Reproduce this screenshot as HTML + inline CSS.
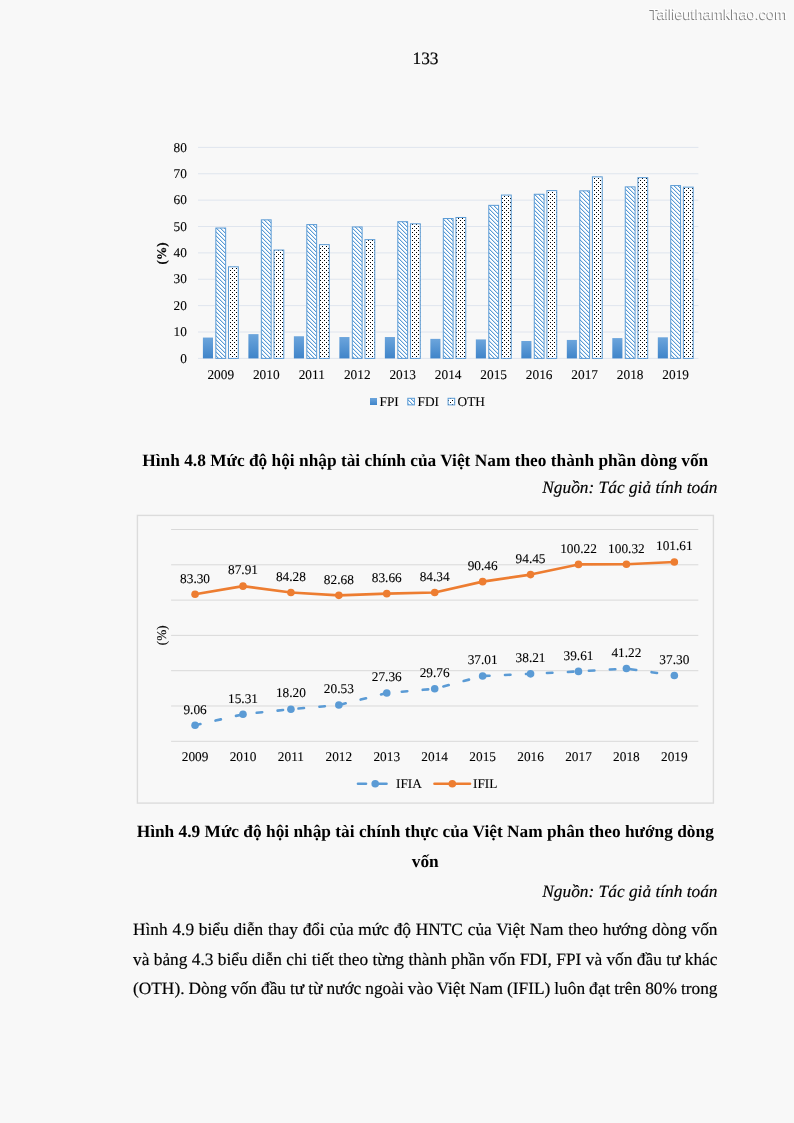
<!DOCTYPE html>
<html lang="vi"><head><meta charset="utf-8"><title>133</title>
<style>
html,body{margin:0;padding:0;}
svg text{stroke:#000;stroke-width:0.1px;}
.r{-webkit-text-stroke:0.18px #000;}
body{width:794px;height:1123px;background:#f8f8f8;position:relative;overflow:hidden;font-family:'Liberation Serif', serif;font-size:17.33px;color:#000;}
</style></head><body>
<div id="pg" style="position:absolute;left:0;top:0;width:794px;height:1123px;transform:translateZ(0);text-rendering:geometricPrecision;">
<svg width="794" height="1123" viewBox="0 0 794 1123" style="position:absolute;left:0;top:0"><defs>
<linearGradient id="gFPI" x1="0" y1="0" x2="0" y2="1"><stop offset="0" stop-color="#6ca5dc"/><stop offset="1" stop-color="#3f84c9"/></linearGradient>
<pattern id="pFDI" patternUnits="userSpaceOnUse" width="4" height="4">
<rect width="4" height="4" fill="#ffffff"/>
<rect x="0" y="0" width="1" height="1" fill="#5b9bd5"/><rect x="1" y="1" width="1" height="1" fill="#5b9bd5"/><rect x="2" y="2" width="1" height="1" fill="#5b9bd5"/><rect x="3" y="3" width="1" height="1" fill="#5b9bd5"/><g fill="#5b9bd5" fill-opacity="0.3"><rect x="1" y="0" width="1" height="1"/><rect x="2" y="1" width="1" height="1"/><rect x="3" y="2" width="1" height="1"/><rect x="0" y="3" width="1" height="1"/></g>
</pattern>
<pattern id="pOTH" patternUnits="userSpaceOnUse" width="4" height="4">
<rect width="4" height="4" fill="#ffffff"/>
<rect x="0" y="0" width="1" height="1" fill="#000"/>
<rect x="2" y="2" width="1" height="1" fill="#000"/>
</pattern>
<pattern id="pLegFDI" patternUnits="userSpaceOnUse" width="4" height="4">
<rect width="4" height="4" fill="#ffffff"/>
<rect x="0" y="0" width="1" height="1" fill="#5b9bd5"/><rect x="1" y="1" width="1" height="1" fill="#5b9bd5"/><rect x="2" y="2" width="1" height="1" fill="#5b9bd5"/><rect x="3" y="3" width="1" height="1" fill="#5b9bd5"/><g fill="#5b9bd5" fill-opacity="0.3"><rect x="1" y="0" width="1" height="1"/><rect x="2" y="1" width="1" height="1"/><rect x="3" y="2" width="1" height="1"/><rect x="0" y="3" width="1" height="1"/></g>
</pattern>
</defs><line x1="198.0" y1="358.40" x2="698.4" y2="358.40" stroke="#dfe5ee" stroke-width="1"/><text x="186.8" y="362.60" text-anchor="end" font-family="Liberation Serif" font-size="13.33" fill="#000">0</text><line x1="198.0" y1="332.02" x2="698.4" y2="332.02" stroke="#dfe5ee" stroke-width="1"/><text x="186.8" y="336.22" text-anchor="end" font-family="Liberation Serif" font-size="13.33" fill="#000">10</text><line x1="198.0" y1="305.65" x2="698.4" y2="305.65" stroke="#dfe5ee" stroke-width="1"/><text x="186.8" y="309.85" text-anchor="end" font-family="Liberation Serif" font-size="13.33" fill="#000">20</text><line x1="198.0" y1="279.27" x2="698.4" y2="279.27" stroke="#dfe5ee" stroke-width="1"/><text x="186.8" y="283.47" text-anchor="end" font-family="Liberation Serif" font-size="13.33" fill="#000">30</text><line x1="198.0" y1="252.90" x2="698.4" y2="252.90" stroke="#dfe5ee" stroke-width="1"/><text x="186.8" y="257.10" text-anchor="end" font-family="Liberation Serif" font-size="13.33" fill="#000">40</text><line x1="198.0" y1="226.52" x2="698.4" y2="226.52" stroke="#dfe5ee" stroke-width="1"/><text x="186.8" y="230.72" text-anchor="end" font-family="Liberation Serif" font-size="13.33" fill="#000">50</text><line x1="198.0" y1="200.15" x2="698.4" y2="200.15" stroke="#dfe5ee" stroke-width="1"/><text x="186.8" y="204.35" text-anchor="end" font-family="Liberation Serif" font-size="13.33" fill="#000">60</text><line x1="198.0" y1="173.77" x2="698.4" y2="173.77" stroke="#dfe5ee" stroke-width="1"/><text x="186.8" y="177.97" text-anchor="end" font-family="Liberation Serif" font-size="13.33" fill="#000">70</text><line x1="198.0" y1="147.40" x2="698.4" y2="147.40" stroke="#dfe5ee" stroke-width="1"/><text x="186.8" y="151.60" text-anchor="end" font-family="Liberation Serif" font-size="13.33" fill="#000">80</text><rect x="202.90" y="337.56" width="10.1" height="20.84" fill="url(#gFPI)"/><rect x="215.85" y="228.03" width="9.8" height="130.37" fill="url(#pFDI)" stroke="#5b9bd5" stroke-width="1"/><rect x="228.50" y="266.80" width="9.8" height="91.60" fill="url(#pOTH)" stroke="#5b9bd5" stroke-width="1"/><text x="220.75" y="379.2" text-anchor="middle" font-family="Liberation Serif" font-size="13.33" fill="#000">2009</text><rect x="248.39" y="334.13" width="10.1" height="24.26" fill="url(#gFPI)"/><rect x="261.34" y="219.85" width="9.8" height="138.55" fill="url(#pFDI)" stroke="#5b9bd5" stroke-width="1"/><rect x="273.99" y="250.05" width="9.8" height="108.35" fill="url(#pOTH)" stroke="#5b9bd5" stroke-width="1"/><text x="266.24" y="379.2" text-anchor="middle" font-family="Liberation Serif" font-size="13.33" fill="#000">2010</text><rect x="293.88" y="336.25" width="10.1" height="22.15" fill="url(#gFPI)"/><rect x="306.83" y="224.60" width="9.8" height="133.80" fill="url(#pFDI)" stroke="#5b9bd5" stroke-width="1"/><rect x="319.48" y="244.65" width="9.8" height="113.75" fill="url(#pOTH)" stroke="#5b9bd5" stroke-width="1"/><text x="311.73" y="379.2" text-anchor="middle" font-family="Liberation Serif" font-size="13.33" fill="#000">2011</text><rect x="339.37" y="337.04" width="10.1" height="21.36" fill="url(#gFPI)"/><rect x="352.32" y="226.97" width="9.8" height="131.43" fill="url(#pFDI)" stroke="#5b9bd5" stroke-width="1"/><rect x="364.97" y="239.63" width="9.8" height="118.77" fill="url(#pOTH)" stroke="#5b9bd5" stroke-width="1"/><text x="357.22" y="379.2" text-anchor="middle" font-family="Liberation Serif" font-size="13.33" fill="#000">2012</text><rect x="384.86" y="337.04" width="10.1" height="21.36" fill="url(#gFPI)"/><rect x="397.81" y="221.70" width="9.8" height="136.70" fill="url(#pFDI)" stroke="#5b9bd5" stroke-width="1"/><rect x="410.46" y="223.81" width="9.8" height="134.59" fill="url(#pOTH)" stroke="#5b9bd5" stroke-width="1"/><text x="402.71" y="379.2" text-anchor="middle" font-family="Liberation Serif" font-size="13.33" fill="#000">2013</text><rect x="430.35" y="338.88" width="10.1" height="19.52" fill="url(#gFPI)"/><rect x="443.30" y="218.53" width="9.8" height="139.87" fill="url(#pFDI)" stroke="#5b9bd5" stroke-width="1"/><rect x="455.95" y="217.48" width="9.8" height="140.92" fill="url(#pOTH)" stroke="#5b9bd5" stroke-width="1"/><text x="448.20" y="379.2" text-anchor="middle" font-family="Liberation Serif" font-size="13.33" fill="#000">2014</text><rect x="475.84" y="339.41" width="10.1" height="18.99" fill="url(#gFPI)"/><rect x="488.79" y="205.35" width="9.8" height="153.05" fill="url(#pFDI)" stroke="#5b9bd5" stroke-width="1"/><rect x="501.44" y="195.06" width="9.8" height="163.34" fill="url(#pOTH)" stroke="#5b9bd5" stroke-width="1"/><text x="493.69" y="379.2" text-anchor="middle" font-family="Liberation Serif" font-size="13.33" fill="#000">2015</text><rect x="521.33" y="340.99" width="10.1" height="17.41" fill="url(#gFPI)"/><rect x="534.28" y="194.27" width="9.8" height="164.13" fill="url(#pFDI)" stroke="#5b9bd5" stroke-width="1"/><rect x="546.93" y="190.58" width="9.8" height="167.82" fill="url(#pOTH)" stroke="#5b9bd5" stroke-width="1"/><text x="539.18" y="379.2" text-anchor="middle" font-family="Liberation Serif" font-size="13.33" fill="#000">2016</text><rect x="566.82" y="339.94" width="10.1" height="18.46" fill="url(#gFPI)"/><rect x="579.77" y="190.84" width="9.8" height="167.56" fill="url(#pFDI)" stroke="#5b9bd5" stroke-width="1"/><rect x="592.42" y="176.86" width="9.8" height="181.54" fill="url(#pOTH)" stroke="#5b9bd5" stroke-width="1"/><text x="584.67" y="379.2" text-anchor="middle" font-family="Liberation Serif" font-size="13.33" fill="#000">2017</text><rect x="612.31" y="338.09" width="10.1" height="20.31" fill="url(#gFPI)"/><rect x="625.26" y="186.88" width="9.8" height="171.52" fill="url(#pFDI)" stroke="#5b9bd5" stroke-width="1"/><rect x="637.91" y="177.65" width="9.8" height="180.75" fill="url(#pOTH)" stroke="#5b9bd5" stroke-width="1"/><text x="630.16" y="379.2" text-anchor="middle" font-family="Liberation Serif" font-size="13.33" fill="#000">2018</text><rect x="657.80" y="337.30" width="10.1" height="21.10" fill="url(#gFPI)"/><rect x="670.75" y="185.57" width="9.8" height="172.83" fill="url(#pFDI)" stroke="#5b9bd5" stroke-width="1"/><rect x="683.40" y="187.15" width="9.8" height="171.25" fill="url(#pOTH)" stroke="#5b9bd5" stroke-width="1"/><text x="675.65" y="379.2" text-anchor="middle" font-family="Liberation Serif" font-size="13.33" fill="#000">2019</text><text transform="translate(166.2,253.3) rotate(-90)" text-anchor="middle" font-family="Liberation Serif" font-weight="bold" font-size="13.33" fill="#000" style="stroke-width:0.1px">(%)</text><rect x="370" y="398" width="7" height="7" fill="url(#gFPI)"/><text x="379.5" y="405.6" font-family="Liberation Serif" font-size="13.33" fill="#000">FPI</text><rect x="407.8" y="398.3" width="6.6" height="6.6" fill="url(#pLegFDI)" stroke="#5b9bd5" stroke-width="1"/><text x="417.5" y="405.6" font-family="Liberation Serif" font-size="13.33" fill="#000">FDI</text><rect x="448.1" y="398.3" width="6.6" height="6.6" fill="url(#pOTH)" stroke="#5b9bd5" stroke-width="1"/><text x="457.6" y="405.6" font-family="Liberation Serif" font-size="13.33" fill="#000">OTH</text><rect x="137.4" y="515.4" width="576" height="287.7" fill="none" stroke="#dcdcdc" stroke-width="1.4"/><line x1="171.1" y1="741.30" x2="698.3" y2="741.30" stroke="#d9d9d9" stroke-width="1"/><line x1="171.1" y1="706.00" x2="698.3" y2="706.00" stroke="#d9d9d9" stroke-width="1"/><line x1="171.1" y1="670.70" x2="698.3" y2="670.70" stroke="#d9d9d9" stroke-width="1"/><line x1="171.1" y1="635.40" x2="698.3" y2="635.40" stroke="#d9d9d9" stroke-width="1"/><line x1="171.1" y1="600.10" x2="698.3" y2="600.10" stroke="#d9d9d9" stroke-width="1"/><line x1="171.1" y1="564.80" x2="698.3" y2="564.80" stroke="#d9d9d9" stroke-width="1"/><line x1="171.1" y1="529.50" x2="698.3" y2="529.50" stroke="#d9d9d9" stroke-width="1"/><polyline points="195.06,725.31 242.99,714.28 290.92,709.18 338.85,705.06 386.77,693.01 434.70,688.77 482.63,675.98 530.55,673.86 578.48,671.39 626.41,668.55 674.34,675.47" fill="none" stroke="#5b9bd5" stroke-width="2.6" stroke-dasharray="5.5 15.5" stroke-linecap="round"/><circle cx="195.06" cy="725.31" r="3.8" fill="#5b9bd5"/><circle cx="242.99" cy="714.28" r="3.8" fill="#5b9bd5"/><circle cx="290.92" cy="709.18" r="3.8" fill="#5b9bd5"/><circle cx="338.85" cy="705.06" r="3.8" fill="#5b9bd5"/><circle cx="386.77" cy="693.01" r="3.8" fill="#5b9bd5"/><circle cx="434.70" cy="688.77" r="3.8" fill="#5b9bd5"/><circle cx="482.63" cy="675.98" r="3.8" fill="#5b9bd5"/><circle cx="530.55" cy="673.86" r="3.8" fill="#5b9bd5"/><circle cx="578.48" cy="671.39" r="3.8" fill="#5b9bd5"/><circle cx="626.41" cy="668.55" r="3.8" fill="#5b9bd5"/><circle cx="674.34" cy="675.47" r="3.8" fill="#5b9bd5"/><polyline points="195.06,594.28 242.99,586.14 290.92,592.55 338.85,595.37 386.77,593.64 434.70,592.44 482.63,581.64 530.55,574.60 578.48,564.41 626.41,564.24 674.34,561.96" fill="none" stroke="#ed7d31" stroke-width="2.6" stroke-linejoin="round"/><circle cx="195.06" cy="594.28" r="3.8" fill="#ed7d31"/><circle cx="242.99" cy="586.14" r="3.8" fill="#ed7d31"/><circle cx="290.92" cy="592.55" r="3.8" fill="#ed7d31"/><circle cx="338.85" cy="595.37" r="3.8" fill="#ed7d31"/><circle cx="386.77" cy="593.64" r="3.8" fill="#ed7d31"/><circle cx="434.70" cy="592.44" r="3.8" fill="#ed7d31"/><circle cx="482.63" cy="581.64" r="3.8" fill="#ed7d31"/><circle cx="530.55" cy="574.60" r="3.8" fill="#ed7d31"/><circle cx="578.48" cy="564.41" r="3.8" fill="#ed7d31"/><circle cx="626.41" cy="564.24" r="3.8" fill="#ed7d31"/><circle cx="674.34" cy="561.96" r="3.8" fill="#ed7d31"/><text x="195.06" y="582.58" text-anchor="middle" font-family="Liberation Serif" font-size="13.33" fill="#000">83.30</text><text x="242.99" y="574.44" text-anchor="middle" font-family="Liberation Serif" font-size="13.33" fill="#000">87.91</text><text x="290.92" y="580.85" text-anchor="middle" font-family="Liberation Serif" font-size="13.33" fill="#000">84.28</text><text x="338.85" y="583.67" text-anchor="middle" font-family="Liberation Serif" font-size="13.33" fill="#000">82.68</text><text x="386.77" y="581.94" text-anchor="middle" font-family="Liberation Serif" font-size="13.33" fill="#000">83.66</text><text x="434.70" y="580.74" text-anchor="middle" font-family="Liberation Serif" font-size="13.33" fill="#000">84.34</text><text x="482.63" y="569.94" text-anchor="middle" font-family="Liberation Serif" font-size="13.33" fill="#000">90.46</text><text x="530.55" y="562.90" text-anchor="middle" font-family="Liberation Serif" font-size="13.33" fill="#000">94.45</text><text x="578.48" y="552.71" text-anchor="middle" font-family="Liberation Serif" font-size="13.33" fill="#000">100.22</text><text x="626.41" y="552.54" text-anchor="middle" font-family="Liberation Serif" font-size="13.33" fill="#000">100.32</text><text x="674.34" y="550.26" text-anchor="middle" font-family="Liberation Serif" font-size="13.33" fill="#000">101.61</text><text x="195.06" y="713.61" text-anchor="middle" font-family="Liberation Serif" font-size="13.33" fill="#000">9.06</text><text x="242.99" y="702.58" text-anchor="middle" font-family="Liberation Serif" font-size="13.33" fill="#000">15.31</text><text x="290.92" y="697.48" text-anchor="middle" font-family="Liberation Serif" font-size="13.33" fill="#000">18.20</text><text x="338.85" y="693.36" text-anchor="middle" font-family="Liberation Serif" font-size="13.33" fill="#000">20.53</text><text x="386.77" y="681.31" text-anchor="middle" font-family="Liberation Serif" font-size="13.33" fill="#000">27.36</text><text x="434.70" y="677.07" text-anchor="middle" font-family="Liberation Serif" font-size="13.33" fill="#000">29.76</text><text x="482.63" y="664.28" text-anchor="middle" font-family="Liberation Serif" font-size="13.33" fill="#000">37.01</text><text x="530.55" y="662.16" text-anchor="middle" font-family="Liberation Serif" font-size="13.33" fill="#000">38.21</text><text x="578.48" y="659.69" text-anchor="middle" font-family="Liberation Serif" font-size="13.33" fill="#000">39.61</text><text x="626.41" y="656.85" text-anchor="middle" font-family="Liberation Serif" font-size="13.33" fill="#000">41.22</text><text x="674.34" y="663.77" text-anchor="middle" font-family="Liberation Serif" font-size="13.33" fill="#000">37.30</text><text x="195.06" y="760.8" text-anchor="middle" font-family="Liberation Serif" font-size="13.33" fill="#000">2009</text><text x="242.99" y="760.8" text-anchor="middle" font-family="Liberation Serif" font-size="13.33" fill="#000">2010</text><text x="290.92" y="760.8" text-anchor="middle" font-family="Liberation Serif" font-size="13.33" fill="#000">2011</text><text x="338.85" y="760.8" text-anchor="middle" font-family="Liberation Serif" font-size="13.33" fill="#000">2012</text><text x="386.77" y="760.8" text-anchor="middle" font-family="Liberation Serif" font-size="13.33" fill="#000">2013</text><text x="434.70" y="760.8" text-anchor="middle" font-family="Liberation Serif" font-size="13.33" fill="#000">2014</text><text x="482.63" y="760.8" text-anchor="middle" font-family="Liberation Serif" font-size="13.33" fill="#000">2015</text><text x="530.55" y="760.8" text-anchor="middle" font-family="Liberation Serif" font-size="13.33" fill="#000">2016</text><text x="578.48" y="760.8" text-anchor="middle" font-family="Liberation Serif" font-size="13.33" fill="#000">2017</text><text x="626.41" y="760.8" text-anchor="middle" font-family="Liberation Serif" font-size="13.33" fill="#000">2018</text><text x="674.34" y="760.8" text-anchor="middle" font-family="Liberation Serif" font-size="13.33" fill="#000">2019</text><text transform="translate(166.0,635.3) rotate(-90)" text-anchor="middle" font-family="Liberation Serif" font-size="13.33" fill="#000">(%)</text><line x1="358" y1="783.7" x2="366" y2="783.7" stroke="#5b9bd5" stroke-width="2.6" stroke-linecap="round"/><line x1="374" y1="783.7" x2="386.5" y2="783.7" stroke="#5b9bd5" stroke-width="2.6" stroke-linecap="round"/><circle cx="375.2" cy="783.7" r="3.8" fill="#5b9bd5"/><text x="396" y="788.3" font-family="Liberation Serif" font-size="13.33" fill="#000">IFIA</text><line x1="434.5" y1="783.7" x2="470" y2="783.7" stroke="#ed7d31" stroke-width="2.6" stroke-linecap="round"/><circle cx="452.3" cy="783.7" r="3.8" fill="#ed7d31"/><text x="473" y="788.3" font-family="Liberation Serif" font-size="13.33" fill="#000">IFIL</text></svg>
<div class="r" style="position:absolute;left:0px;top:44.05px;width:794px;height:30px;line-height:30px;white-space:nowrap;text-align:center;padding-left:57px;box-sizing:border-box;">133</div><div style="position:absolute;left:133px;top:445.65px;width:584.5px;height:30px;line-height:30px;white-space:nowrap;text-align:center;font-weight:bold;">Hình 4.8 Mức độ hội nhập tài chính của Việt Nam theo thành phần dòng vốn</div><div class="r" style="position:absolute;left:133px;top:472.85px;width:584.5px;height:30px;line-height:30px;white-space:nowrap;text-align:right;font-style:italic;">Nguồn: Tác giả tính toán</div><div style="position:absolute;left:133px;top:817.15px;width:584.5px;height:30px;line-height:30px;white-space:nowrap;text-align:center;font-weight:bold;">Hình 4.9 Mức độ hội nhập tài chính thực của Việt Nam phân theo hướng dòng</div><div style="position:absolute;left:133px;top:847.35px;width:584.5px;height:30px;line-height:30px;white-space:nowrap;text-align:center;font-weight:bold;">vốn</div><div class="r" style="position:absolute;left:133px;top:876.65px;width:584.5px;height:30px;line-height:30px;white-space:nowrap;text-align:right;font-style:italic;">Nguồn: Tác giả tính toán</div><div class="r" style="position:absolute;left:133px;top:915.15px;width:584.5px;height:30px;line-height:30px;white-space:nowrap;text-align:left;word-spacing:0.430px;">Hình 4.9 biểu diễn thay đổi của mức độ HNTC của Việt Nam theo hướng dòng vốn</div><div class="r" style="position:absolute;left:133px;top:944.85px;width:584.5px;height:30px;line-height:30px;white-space:nowrap;text-align:left;word-spacing:0.040px;">và bảng 4.3 biểu diễn chi tiết theo từng thành phần vốn FDI, FPI và vốn đầu tư khác</div><div class="r" style="position:absolute;left:133px;top:974.35px;width:584.5px;height:30px;line-height:30px;white-space:nowrap;text-align:left;word-spacing:-0.337px;">(OTH). Dòng vốn đầu tư từ nước ngoài vào Việt Nam (IFIL) luôn đạt trên 80% trong</div>
<div style="position:absolute;left:650px;top:3px;font-family:'Liberation Sans', sans-serif;font-size:14.6px;line-height:24px;color:#ffffff;text-shadow:-1px 1px 0 #808080;white-space:nowrap;">Tailieuthamkhao.com</div>
</div>
</body></html>
